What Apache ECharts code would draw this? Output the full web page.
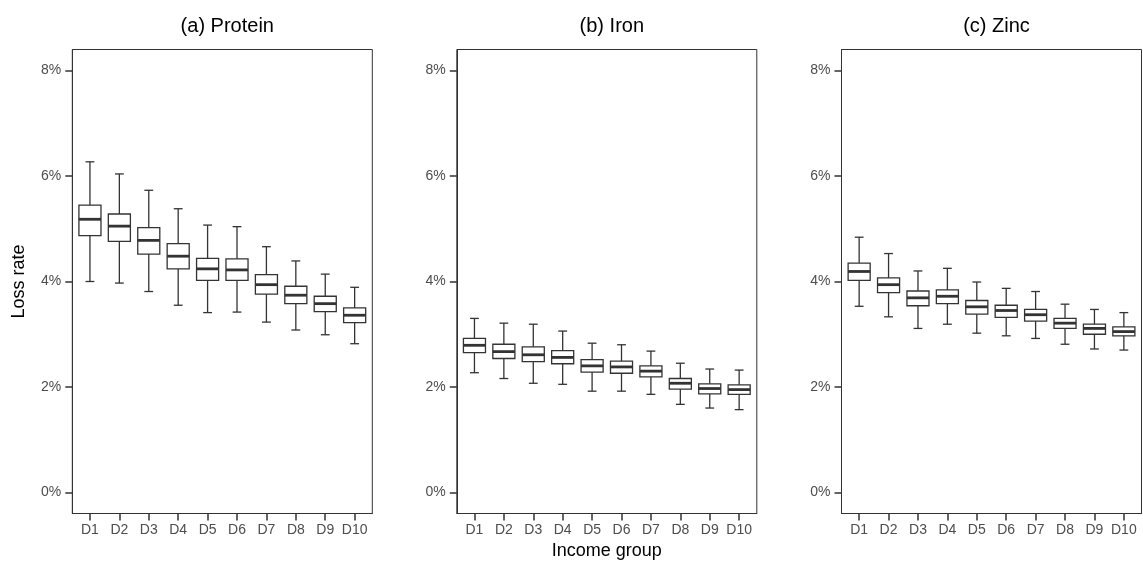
<!DOCTYPE html>
<html>
<head>
<meta charset="utf-8">
<script src="https://cdn.jsdelivr.net/npm/echarts@6/dist/echarts.min.js"></script>
<style>html,body{margin:0;padding:0;background:#fff}#c{width:1143px;height:567px}</style>
</head>
<body>
<div id="c"></div>
<script>
const categories = ['D1','D2','D3','D4','D5','D6','D7','D8','D9','D10'];
const panelTitles = ['(a) Protein','(b) Iron','(c) Zinc'];
const yTicks = [0, 2, 4, 6, 8];
// each row: [lower whisker, Q1, median, Q3, upper whisker] in %
const protein = [
  [4.00, 4.87, 5.18, 5.45, 6.27],[3.97, 4.76, 5.05, 5.28, 6.04],[3.81, 4.52, 4.78, 5.02, 5.73],
  [3.55, 4.24, 4.48, 4.72, 5.38],[3.41, 4.02, 4.24, 4.44, 5.07],[3.42, 4.02, 4.22, 4.43, 5.04],
  [3.23, 3.76, 3.94, 4.13, 4.66],[3.08, 3.58, 3.74, 3.91, 4.39],[2.99, 3.43, 3.58, 3.72, 4.14],
  [2.82, 3.22, 3.36, 3.50, 3.89]
];
const iron = [
  [2.27, 2.65, 2.79, 2.92, 3.30],[2.16, 2.54, 2.67, 2.81, 3.21],[2.07, 2.48, 2.61, 2.76, 3.19],
  [2.05, 2.44, 2.56, 2.69, 3.06],[1.92, 2.28, 2.40, 2.52, 2.83],[1.92, 2.26, 2.38, 2.49, 2.80],
  [1.86, 2.19, 2.30, 2.40, 2.68],[1.67, 1.96, 2.07, 2.16, 2.45],[1.60, 1.87, 1.97, 2.06, 2.34],
  [1.57, 1.86, 1.95, 2.04, 2.32]
];
const zinc = [
  [3.53, 4.02, 4.19, 4.35, 4.84],[3.33, 3.79, 3.94, 4.07, 4.53],[3.11, 3.54, 3.69, 3.82, 4.20],
  [3.19, 3.58, 3.72, 3.84, 4.25],[3.02, 3.38, 3.52, 3.64, 3.99],[2.97, 3.32, 3.45, 3.55, 3.87],
  [2.92, 3.25, 3.37, 3.47, 3.81],[2.81, 3.11, 3.21, 3.30, 3.57],[2.72, 3.00, 3.11, 3.19, 3.47],
  [2.70, 2.97, 3.05, 3.14, 3.41]
];
const panels = [protein, iron, zinc];

const FONT = '"Liberation Sans", Arial, sans-serif';
const DARK = '#333333';
const LABEL = '#4d4d4d';

// layout
const panelLeft = [72.3, 456.8, 841.5];
const panelW = 300, panelTop = 49.5, panelH = 464;
// ggplot-style expansion: discrete x padded by 0.6 units, y 0..8 padded 5%
const xMin = 0.4, xMax = categories.length + 0.6;
const yMin = -0.4, yMax = 8.4;
const xTickVals = categories.map((c, k) => k + 1);

function renderBox(params, api) {
  const x = api.value(0);
  const lo = api.coord([x, api.value(1)]);
  const q1 = api.coord([x, api.value(2)]);
  const md = api.coord([x, api.value(3)]);
  const q3 = api.coord([x, api.value(4)]);
  const hi = api.coord([x, api.value(5)]);
  const unit = api.size([1, 0])[0];
  const bw = unit * 0.75, cw = unit * 0.3;
  const cx = lo[0];
  const lw = 1.3;
  return {
    type: 'group',
    children: [
      {type:'line', shape:{x1:cx, y1:hi[1], x2:cx, y2:lo[1]}, style:{stroke:DARK, lineWidth:lw}},
      {type:'line', shape:{x1:cx-cw/2, y1:hi[1], x2:cx+cw/2, y2:hi[1]}, style:{stroke:DARK, lineWidth:lw}},
      {type:'line', shape:{x1:cx-cw/2, y1:lo[1], x2:cx+cw/2, y2:lo[1]}, style:{stroke:DARK, lineWidth:lw}},
      {type:'rect', shape:{x:cx-bw/2, y:q3[1], width:bw, height:q1[1]-q3[1]}, style:{fill:'#fff', stroke:DARK, lineWidth:lw}},
      {type:'line', shape:{x1:cx-bw/2, y1:md[1], x2:cx+bw/2, y2:md[1]}, style:{stroke:DARK, lineWidth:2.8}}
    ]
  };
}

const grid = [], xAxis = [], yAxis = [], series = [], title = [];
panels.forEach((data, i) => {
  const L = panelLeft[i];
  grid.push({left:L, top:panelTop, width:panelW, height:panelH, show:true, borderColor:DARK, borderWidth:1,
             backgroundColor:'transparent', containLabel:false, outerBoundsMode:'none'});
  xAxis.push({
    gridIndex:i, type:'value', min:xMin, max:xMax, position:'bottom',
    axisLine:{show:true, onZero:false, lineStyle:{color:DARK, width:1}},
    axisTick:{show:true, length:7, customValues:xTickVals, lineStyle:{color:DARK, width:1.5}},
    axisLabel:{color:LABEL, fontSize:14, fontFamily:FONT, margin:10, customValues:xTickVals,
               formatter: v => categories[Math.round(v) - 1]},
    splitLine:{show:false},
    name: i === 1 ? 'Income group' : '',
    nameLocation:'middle', nameGap:27,
    nameTextStyle:{color:'#000', fontSize:18, fontFamily:FONT}
  });
  yAxis.push({
    gridIndex:i, type:'value', min:yMin, max:yMax, position:'left',
    axisLine:{show:true, onZero:false, lineStyle:{color:DARK, width:1}},
    axisTick:{show:true, length:7, customValues:yTicks, lineStyle:{color:DARK, width:1.5}},
    axisLabel:{color:LABEL, fontSize:14, fontFamily:FONT, margin:11, customValues:yTicks,
               formatter: v => Math.round(v) + '%'},
    splitLine:{show:false},
    name: i === 0 ? 'Loss rate' : '',
    nameLocation:'middle', nameGap:44,
    nameTextStyle:{color:'#000', fontSize:18, fontFamily:FONT}
  });
  series.push({
    type:'custom', xAxisIndex:i, yAxisIndex:i,
    renderItem: renderBox,
    encode:{x:0, y:[1,2,3,4,5]},
    data: data.map((r, k) => [xTickVals[k], r[0], r[1], r[2], r[3], r[4]]),
    animation:false, silent:true
  });
  title.push({
    text: panelTitles[i], left: L + panelW/2, top: 11, textAlign:'center',
    textStyle:{color:'#000', fontSize:20, fontWeight:'normal', fontFamily:FONT}
  });
});

const chart = echarts.init(document.getElementById('c'), null, {renderer:'canvas'});
chart.setOption({animation:false, backgroundColor:'#fff', title, grid, xAxis, yAxis, series});
</script>
</body>
</html>
